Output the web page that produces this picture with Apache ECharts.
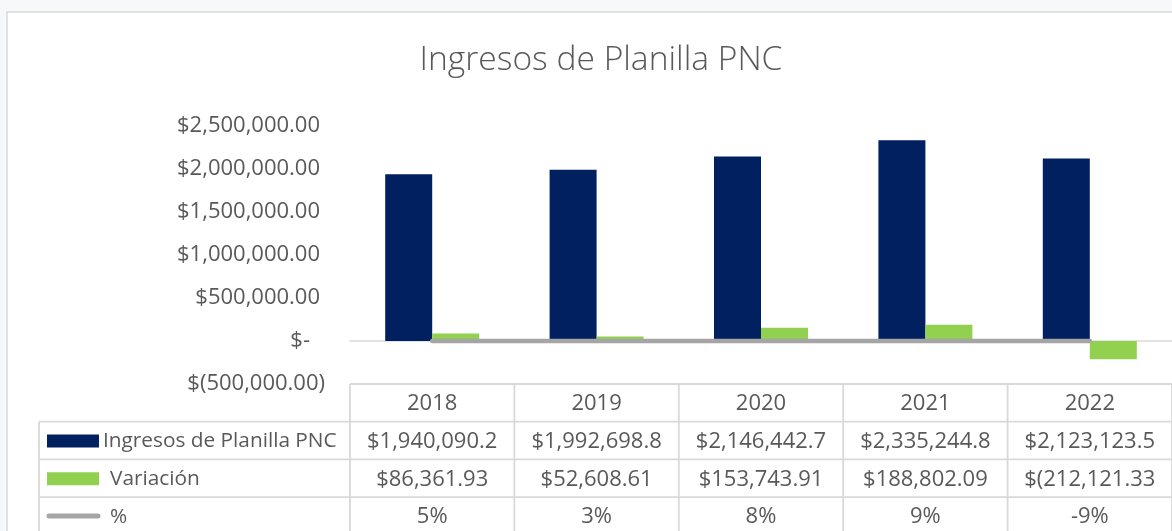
<!DOCTYPE html>
<html><head><meta charset="utf-8">
<script src="https://cdn.jsdelivr.net/npm/echarts@6/dist/echarts.min.js"></script>
<style>html,body{margin:0;padding:0;background:#f7f8f9}#c{width:1172px;height:531px}</style>
</head><body><div id="c"></div>
<script>
// ---- data ----
const years = ['2018', '2019', '2020', '2021', '2022'];
const ingresos = [1940090.2, 1992698.8, 2146442.7, 2335244.8, 2123123.5];
const variacion = [86361.93, 52608.61, 153743.91, 188802.09, -212121.33];
const porcentaje = [0.05, 0.03, 0.08, 0.09, -0.09];
const yTicks = [-500000, 0, 500000, 1000000, 1500000, 2000000, 2500000];
const seriesNames = ['Ingresos de Planilla PNC', 'Variación', '%'];
const titleText = 'Ingresos de Planilla PNC';

// ---- helpers ----
const FONT = '"Open Sans", "Noto Sans", sans-serif';
const TXT = '#595959';
const GRID_LINE = '#d9d9d9';
const COLORS = ['#002060', '#92D050', '#A5A5A5'];

function commas(v, dec) {
  const s = Math.abs(v).toFixed(dec);
  const parts = s.split('.');
  parts[0] = parts[0].replace(/\B(?=(\d{3})+(?!\d))/g, ',');
  return parts.join('.');
}
function fmtAxis(v) {
  if (v === 0) return '{z|$-}';
  if (v < 0) return '{n|$(' + commas(v, 2) + ')}';
  return '{p|$' + commas(v, 2) + '}';
}
// cell displays as in the reference (Excel clips the text to the cell)
function fmtIngreso(v) { return '$' + commas(v, 1); }
function fmtVar(v) { return v < 0 ? '$(' + commas(v, 2) : '$' + commas(v, 2); }
function fmtPct(v) { return Math.round(v * 100) + '%'; }

const chart = echarts.init(document.getElementById('c'), null, { renderer: 'canvas' });
const labelStyle = { fontFamily: FONT, fontSize: 22, color: TXT };

chart.setOption({
  backgroundColor: '#f7f8f9',
  animation: false,
  title: {
    text: titleText, left: 596, top: 38, textAlign: 'center',
    textStyle: { fontFamily: FONT, fontSize: 33.6, fontWeight: 300, color: TXT }
  },
  grid: { left: 350, right: -1, top: 126, bottom: 147, containLabel: false },
  xAxis: {
    type: 'category', data: years,
    axisLine: { onZero: true, lineStyle: { color: GRID_LINE, width: 1.5 } },
    axisTick: { show: false }, axisLabel: { show: false }, splitLine: { show: false }
  },
  yAxis: {
    type: 'value', min: yTicks[0], max: yTicks[yTicks.length - 1], interval: 500000,
    axisLine: { show: false }, axisTick: { show: false }, splitLine: { show: false },
    axisLabel: {
      margin: 25, formatter: fmtAxis,
      rich: {
        p: Object.assign({ padding: [0, 5, 0, 0] }, labelStyle),
        z: Object.assign({ padding: [0, 15, 0, 0] }, labelStyle),
        n: Object.assign({ padding: [0, 0, 0, 0] }, labelStyle)
      }
    }
  },
  series: [
    { name: seriesNames[0], type: 'bar', data: ingresos, barWidth: 47, barGap: '0%',
      itemStyle: { color: COLORS[0] }, z: 2 },
    { name: seriesNames[1], type: 'bar', data: variacion, barWidth: 47,
      itemStyle: { color: COLORS[1] }, z: 2 },
    { name: seriesNames[2], type: 'line', data: porcentaje, symbol: 'none',
      lineStyle: { color: COLORS[2], width: 4.5, cap: 'round' }, itemStyle: { color: COLORS[2] }, z: 3 }
  ]
});

// ---- data table built from the axis scale ----
const centers = years.map(y => chart.convertToPixel({ xAxisIndex: 0 }, y));
const band = centers[1] - centers[0];
const tableTop = chart.convertToPixel({ yAxisIndex: 0 }, yTicks[0]);
const rowH = 37.7;
const plotLeft = centers[0] - band / 2;
const plotRight = centers[centers.length - 1] + band / 2;
const tableLeft = 39;
const bottomY = 560;
const els = [];
const lineStyle = { stroke: GRID_LINE, lineWidth: 1.8 };

// chart frame
els.push({ type: 'rect', shape: { x: 7, y: 12, width: 1200, height: 600 },
  style: { fill: '#ffffff', stroke: GRID_LINE, lineWidth: 1.5 }, z: -10, silent: true });

// horizontal lines
els.push({ type: 'line', shape: { x1: plotLeft, y1: tableTop, x2: plotRight + 5, y2: tableTop }, style: lineStyle });
for (let r = 1; r <= 3; r++) {
  const y = tableTop + r * rowH;
  els.push({ type: 'line', shape: { x1: tableLeft, y1: y, x2: plotRight + 5, y2: y }, style: lineStyle });
}
// vertical lines
els.push({ type: 'line', shape: { x1: tableLeft, y1: tableTop + rowH, x2: tableLeft, y2: bottomY }, style: lineStyle });
for (let i = 0; i <= years.length; i++) {
  const x = plotLeft + i * band;
  els.push({ type: 'line', shape: { x1: x, y1: tableTop, x2: x, y2: bottomY }, style: lineStyle });
}
const cellText = (x, y, t, align, size) => ({
  type: 'text', x: x, y: y,
  style: { text: t, fill: TXT, font: (size || 22) + 'px ' + FONT, align: align || 'center', verticalAlign: 'middle' }
});
// header row
years.forEach((yr, i) => els.push(cellText(centers[i], tableTop + rowH / 2 + 1, yr)));
// data rows
const rows = [ingresos.map(fmtIngreso), variacion.map(fmtVar), porcentaje.map(fmtPct)];
rows.forEach((vals, r) => {
  const cy = tableTop + (r + 1.5) * rowH + 1;
  vals.forEach((t, i) => els.push(cellText(centers[i], cy, t)));
});
// legend keys + names
const keyX = 47, keyW = 52;
[0, 1].forEach(r => {
  const cy = tableTop + (r + 1.5) * rowH;
  els.push({ type: 'rect', shape: { x: keyX, y: cy - 6, width: keyW, height: 13 }, style: { fill: COLORS[r] } });
});
{
  const cy = tableTop + 3.5 * rowH;
  els.push({ type: 'line', shape: { x1: keyX + 2, y1: cy, x2: keyX + keyW - 1, y2: cy },
    style: { stroke: COLORS[2], lineWidth: 5, lineCap: 'round' } });
}
const nameX = [103, 110, 110];
seriesNames.forEach((n, r) => {
  els.push(cellText(nameX[r], tableTop + (r + 1.5) * rowH + 1, n, 'left', 20.8));
});

chart.setOption({ graphic: { elements: els } });
</script>
</body></html>
